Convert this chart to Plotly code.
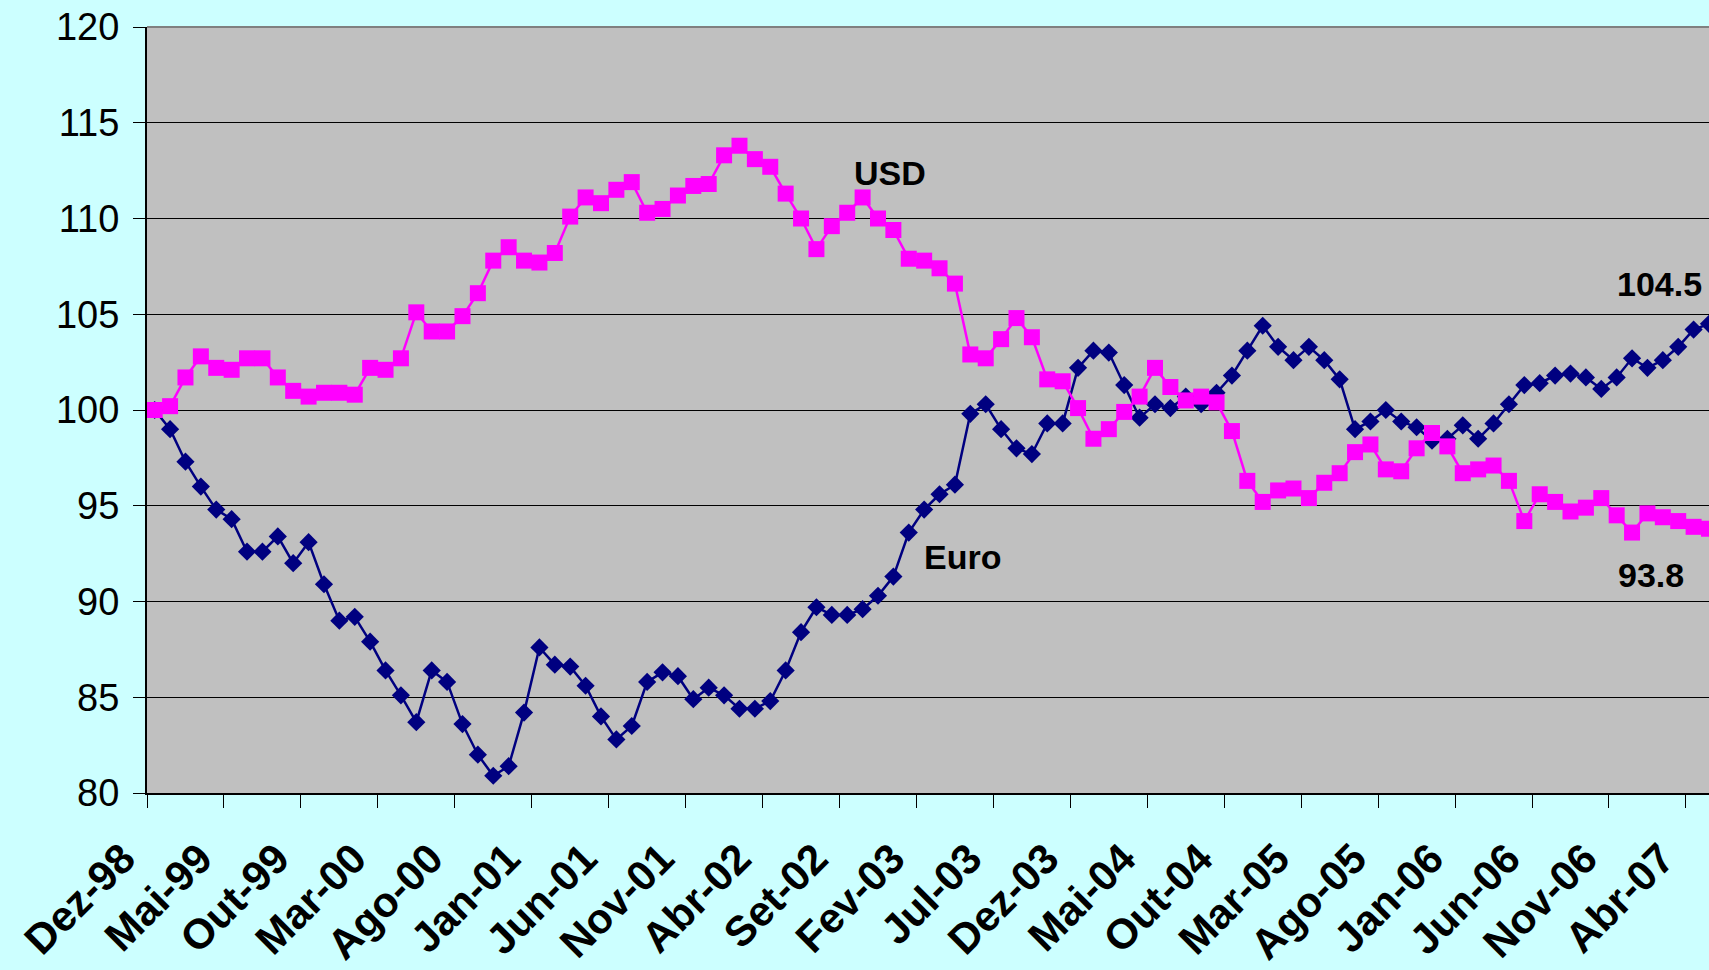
import plotly.graph_objects as go

# Monthly index (Dez-98 = 100), Dez-98 .. Mai-07
usd = [100.0, 100.2, 101.7, 102.8, 102.2, 102.1, 102.7, 102.7, 101.7, 101.0,
       100.7, 100.9, 100.9, 100.8, 102.2, 102.1, 102.7, 105.1, 104.1, 104.1,
       104.9, 106.1, 107.8, 108.5, 107.8, 107.7, 108.2, 110.1, 111.1, 110.8,
       111.5, 111.9, 110.3, 110.5, 111.2, 111.7, 111.8, 113.3, 113.8, 113.1,
       112.7, 111.3, 110.0, 108.4, 109.6, 110.3, 111.1, 110.0, 109.4, 107.9,
       107.8, 107.4, 106.6, 102.9, 102.7, 103.7, 104.8, 103.8, 101.6, 101.5,
       100.1, 98.5, 99.0, 99.9, 100.7, 102.2, 101.2, 100.5, 100.7, 100.4,
       98.9, 96.3, 95.2, 95.8, 95.9, 95.4, 96.2, 96.7, 97.8, 98.2,
       96.9, 96.8, 98.0, 98.8, 98.1, 96.7, 96.9, 97.1, 96.3, 94.2,
       95.6, 95.2, 94.7, 94.9, 95.4, 94.5, 93.6, 94.6, 94.4, 94.2,
       93.9, 93.8]

euro = [100.0, 99.0, 97.3, 96.0, 94.8, 94.3, 92.6, 92.6, 93.4, 92.0,
        93.1, 90.9, 89.0, 89.2, 87.9, 86.4, 85.1, 83.7, 86.4, 85.8,
        83.6, 82.0, 80.9, 81.4, 84.2, 87.6, 86.7, 86.6, 85.6, 84.0,
        82.8, 83.5, 85.8, 86.3, 86.1, 84.9, 85.5, 85.1, 84.4, 84.4,
        84.8, 86.4, 88.4, 89.7, 89.3, 89.3, 89.6, 90.3, 91.3, 93.6,
        94.8, 95.6, 96.1, 99.8, 100.3, 99.0, 98.0, 97.7, 99.3, 99.3,
        102.2, 103.1, 103.0, 101.3, 99.6, 100.3, 100.1, 100.7, 100.3, 100.9,
        101.8, 103.1, 104.4, 103.3, 102.6, 103.3, 102.6, 101.6, 99.0, 99.4,
        100.0, 99.4, 99.1, 98.4, 98.5, 99.2, 98.5, 99.3, 100.3, 101.3,
        101.4, 101.8, 101.9, 101.7, 101.1, 101.7, 102.7, 102.2, 102.6, 103.3,
        104.2, 104.5]

tick_labels = ["Dez-98", "Mai-99", "Out-99", "Mar-00", "Ago-00", "Jan-01",
               "Jun-01", "Nov-01", "Abr-02", "Set-02", "Fev-03", "Jul-03",
               "Dez-03", "Mai-04", "Out-04", "Mar-05", "Ago-05", "Jan-06",
               "Jun-06", "Nov-06", "Abr-07"]

x = list(range(len(usd)))
tickvals = [5 * k - 0.5 for k in range(len(tick_labels))]

FONT = "Liberation Sans, Arial, sans-serif"

fig = go.Figure()
fig.add_trace(go.Scatter(
    x=x, y=euro, mode="lines+markers", name="Euro",
    line=dict(color="#000080", width=2.5),
    marker=dict(symbol="diamond", size=14, color="#000080"),
))
fig.add_trace(go.Scatter(
    x=x, y=usd, mode="lines+markers", name="USD",
    line=dict(color="#FF00FF", width=2.5),
    marker=dict(symbol="square", size=16, color="#FF00FF"),
))

ann_font = dict(family=FONT, size=34, color="black")
for txt, ax_, ay_ in [("<b>USD</b>", 47.8, 112.4), ("<b>Euro</b>", 52.5, 92.3),
                      ("<b>104.5</b>", 97.8, 106.6), ("<b>93.8</b>", 97.2, 91.4)]:
    fig.add_annotation(x=ax_, y=ay_, text=txt, showarrow=False, font=ann_font,
                       xref="x", yref="y")

fig.add_shape(type="line", xref="paper", yref="paper", x0=0, x1=1, y0=1, y1=1,
              line=dict(color="#808080", width=2))

fig.update_layout(
    width=1709, height=970,
    margin=dict(l=147, r=0, t=27, b=177, autoexpand=False),
    paper_bgcolor="#CCFFFF",
    plot_bgcolor="#C0C0C0",
    showlegend=False,
    xaxis=dict(
        range=[-0.5, 101.0],
        tickmode="array", tickvals=tickvals, ticktext=tick_labels,
        tickangle=-45,
        ticks="outside", ticklen=13, tickcolor="black", tickwidth=1,
        tickfont=dict(family=FONT, size=42, color="black", weight="bold"),
        showgrid=False, zeroline=False,
        showline=True, linecolor="black", linewidth=2,
        ticklabelstandoff=9, ticklabelshift=-24,
        ticklabeloverflow="allow",
        automargin=False,
    ),
    yaxis=dict(
        range=[80, 120], dtick=5, tick0=80,
        ticks="outside", ticklen=12, tickcolor="black", tickwidth=1,
        tickfont=dict(family=FONT, size=38, color="black"),
        showgrid=True, gridcolor="black", gridwidth=1,
        zeroline=False,
        showline=True, linecolor="black", linewidth=2,
        ticklabelstandoff=6,
        automargin=False,
    ),
)

page_css = ("document.body.style.margin='0';"
            "document.body.style.padding='0';"
            "document.body.style.overflow='hidden';"
            "document.body.style.background='#CCFFFF';")

fig.write_html("out.html", post_script=page_css,
               config={"displayModeBar": False})
